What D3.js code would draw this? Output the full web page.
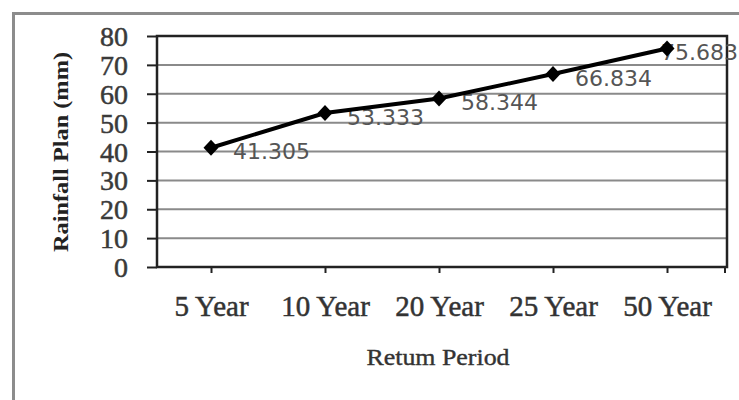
<!DOCTYPE html>
<html>
<head>
<meta charset="utf-8">
<script src="https://cdn.jsdelivr.net/npm/d3@7"></script>
<style>
  body { margin: 0; background: #fff; }
  svg { display: block; }
</style>
</head>
<body>
<svg id="chart"></svg>
<script>
// chart values
const periods = ['5 Year', '10 Year', '20 Year', '25 Year', '50 Year'];
const rainfall = [41.305, 53.333, 58.344, 66.834, 75.683];
const yTicks = [0, 10, 20, 30, 40, 50, 60, 70, 80];

const width = 739, height = 400;
const plot = { left: 157, right: 727, top: 36, bottom: 267 };
const serif = '"Liberation Serif", "Times New Roman", serif';

const svg = d3.select('#chart')
    .attr('width', width)
    .attr('height', height);

// outer frame
svg.append('rect')
    .attr('x', 13.5).attr('y', 13.5)
    .attr('width', 740).attr('height', 400)
    .attr('fill', 'none')
    .attr('stroke', '#8c8c8c')
    .attr('stroke-width', 3);

const x = d3.scalePoint()
    .domain(periods)
    .range([211, 667]);

const y = d3.scaleLinear()
    .domain([0, 80])
    .range([plot.bottom, plot.top]);

// gridlines
svg.append('g')
    .selectAll('line')
    .data(yTicks.slice(1, -1))
    .enter()
    .append('line')
    .attr('x1', plot.left).attr('x2', plot.right)
    .attr('y1', d => y(d)).attr('y2', d => y(d))
    .attr('stroke', '#8a8a8a')
    .attr('stroke-width', 2);

// plot frame
svg.append('rect')
    .attr('x', plot.left).attr('y', plot.top)
    .attr('width', plot.right - plot.left)
    .attr('height', plot.bottom - plot.top)
    .attr('fill', 'none')
    .attr('stroke', '#222')
    .attr('stroke-width', 2.5);

// y axis
const yAxis = svg.append('g')
    .attr('transform', `translate(${plot.left},0)`)
    .call(d3.axisLeft(y).tickValues(yTicks).tickSize(10).tickPadding(19));
yAxis.select('.domain').remove();
yAxis.selectAll('line').attr('stroke', '#222').attr('stroke-width', 2);
yAxis.selectAll('text')
    .attr('fill', '#3a3a3a')
    .attr('stroke', '#3a3a3a')
    .attr('stroke-width', 0.5)
    .style('font-family', serif)
    .style('font-size', '28px')
    .attr('dy', '0.34em');

// x axis
const xAxis = svg.append('g')
    .attr('transform', `translate(0,${plot.bottom})`)
    .call(d3.axisBottom(x).tickSize(6).tickPadding(22));
xAxis.select('.domain').remove();
xAxis.selectAll('line').attr('stroke', '#222').attr('stroke-width', 2);
xAxis.selectAll('text')
    .attr('fill', '#333')
    .attr('stroke', '#333')
    .attr('stroke-width', 0.5)
    .style('font-family', serif)
    .style('font-size', '29px');
svg.append('line')
    .attr('x1', plot.right - 2).attr('x2', plot.right - 2)
    .attr('y1', plot.bottom).attr('y2', plot.bottom + 6)
    .attr('stroke', '#222').attr('stroke-width', 2);

// axis titles
svg.append('text')
    .attr('transform', 'translate(68,152) rotate(-90)')
    .attr('text-anchor', 'middle')
    .attr('textLength', 200)
    .attr('lengthAdjust', 'spacingAndGlyphs')
    .attr('fill', '#222')
    .style('font-family', serif)
    .style('font-size', '20px')
    .style('font-weight', 'bold')
    .text('Rainfall Plan (mm)');

svg.append('text')
    .attr('x', 438).attr('y', 365)
    .attr('text-anchor', 'middle')
    .attr('textLength', 143)
    .attr('lengthAdjust', 'spacingAndGlyphs')
    .attr('fill', '#333')
    .attr('stroke', '#333')
    .attr('stroke-width', 0.4)
    .style('font-family', serif)
    .style('font-size', '24px')
    .text('Retum Period');

const pts = periods.map((p, i) => ({ p: p, v: rainfall[i] }));

// data labels (drawn under the markers); the last one is pulled in to fit
svg.append('g')
    .selectAll('text')
    .data(pts)
    .enter()
    .append('text')
    .attr('x', (d, i) => i === pts.length - 1 ? width - 1 : x(d.p) + 22)
    .attr('y', d => y(d.v) + 4)
    .attr('dy', '0.35em')
    .attr('text-anchor', (d, i) => i === pts.length - 1 ? 'end' : 'start')
    .attr('fill', '#555')
    .style('font-family', '"DejaVu Sans", Verdana, sans-serif')
    .style('font-size', '22px')
    .text(d => d.v.toFixed(3));

// line
svg.append('path')
    .datum(pts)
    .attr('fill', 'none')
    .attr('stroke', '#000')
    .attr('stroke-width', 4)
    .attr('d', d3.line().x(d => x(d.p)).y(d => y(d.v)));

// diamond markers
svg.append('g')
    .selectAll('path')
    .data(pts)
    .enter()
    .append('path')
    .attr('transform', d => `translate(${x(d.p)},${y(d.v)})`)
    .attr('d', 'M0,-8L7.5,0L0,8L-7.5,0Z')
    .attr('fill', '#000');
</script>
</body>
</html>
